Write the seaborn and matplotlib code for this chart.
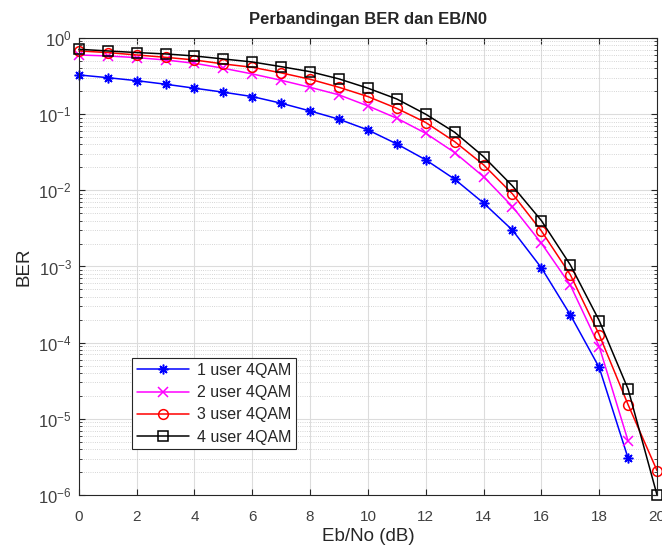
import matplotlib
matplotlib.use("Agg")
import matplotlib.pyplot as plt
import matplotlib.ticker as mticker
import seaborn as sns
import pandas as pd

# Eb/No in dB
ebno_1 = list(range(0, 20))
ebno_2 = list(range(0, 20))
ebno_3 = list(range(0, 21))
ebno_4 = list(range(0, 21))

# BER values
ber_1 = [0.327, 0.301, 0.275, 0.247, 0.219, 0.194, 0.170, 0.139, 0.110, 0.0857,
         0.062, 0.0406, 0.0251, 0.0140, 0.0068, 0.0030, 0.00096, 0.000232, 4.72e-5, 3.03e-6]
ber_2 = [0.598, 0.58, 0.552, 0.514, 0.465, 0.40, 0.337, 0.278, 0.225, 0.179,
         0.128, 0.0883, 0.056, 0.0313, 0.0151, 0.0061, 0.00202, 0.00057, 8.9e-5, 5.1e-6]
ber_3 = [0.675, 0.643, 0.598, 0.557, 0.514, 0.456, 0.412, 0.348, 0.287, 0.225,
         0.17, 0.119, 0.0776, 0.0436, 0.0216, 0.00897, 0.00293, 0.00078, 0.000127, 1.53e-5, 2.09e-6]
ber_4 = [0.71, 0.675, 0.643, 0.617, 0.58, 0.53, 0.484, 0.42, 0.361, 0.29,
         0.219, 0.158, 0.0997, 0.0578, 0.0277, 0.0114, 0.0040, 0.00105, 0.000195, 2.45e-5, 1e-6]

labels = ["1 user 4QAM", "2 user 4QAM", "3 user 4QAM", "4 user 4QAM"]
colors = ["#0000ff", "#ff00ff", "#ff0000", "#000000"]
markers = [(8, 2, 0), "x", "o", "s"]

sns.set_style("ticks")
plt.rcParams["font.family"] = ["Liberation Sans", "DejaVu Sans"]
plt.rcParams["mathtext.fontset"] = "custom"
plt.rcParams["mathtext.rm"] = "Liberation Sans"

fig = plt.figure(figsize=(6.62, 5.5), dpi=100)
ax = fig.add_axes([0.119, 0.1, 0.8735, 0.831])

series = [(ebno_1, ber_1), (ebno_2, ber_2), (ebno_3, ber_3), (ebno_4, ber_4)]
for (xs, ys), lab, col, mk in zip(series, labels, colors, markers):
    df = pd.DataFrame({"ebno": xs, "ber": ys})
    sns.lineplot(data=df, x="ebno", y="ber", ax=ax, color=col, marker=mk,
                 markersize=7, markerfacecolor="none", markeredgecolor=col,
                 markeredgewidth=1.1, linewidth=1.1, label=lab, clip_on=False)

ax.set_yscale("log")
ax.set_xlim(0, 20)
ax.set_ylim(1e-6, 1)
ax.set_xticks(range(0, 21, 2))
ax.yaxis.set_major_locator(mticker.LogLocator(base=10, numticks=10))
ax.yaxis.set_minor_locator(mticker.LogLocator(base=10, subs=range(2, 10), numticks=20))
ax.yaxis.set_minor_formatter(mticker.NullFormatter())

ax.grid(True, which="major", color="#dcdcdc", linewidth=0.8, linestyle="-")
ax.grid(True, which="minor", axis="y", color="#c8c8c8", linewidth=0.6, linestyle=":")
ax.set_axisbelow(True)

ax.tick_params(axis="both", which="both", direction="in", top=True, right=True,
               colors="#262626", labelcolor="#404040")
ax.tick_params(axis="x", labelsize=11, pad=11)
ax.tick_params(axis="y", labelsize=12, pad=5)
ax.tick_params(which="major", length=4)
ax.tick_params(which="minor", length=2.5)
for sp in ax.spines.values():
    sp.set_color("#262626")
    sp.set_linewidth(0.8)

ax.set_xlabel("Eb/No (dB)", fontsize=13.5, color="#262626", labelpad=3)
ax.set_ylabel("BER", fontsize=13.5, color="#262626", labelpad=4)
ax.set_title("Perbandingan BER dan EB/N0", fontsize=12, fontweight="bold", pad=10)

leg = ax.legend(loc="lower left", bbox_to_anchor=(0.092, 0.10), fontsize=11.5,
                handlelength=3.3, frameon=True, fancybox=False, framealpha=1,
                borderpad=0.3, borderaxespad=0, labelspacing=0.45, handletextpad=0.45)
leg.get_frame().set_edgecolor("#262626")
leg.get_frame().set_linewidth(0.8)

fig.savefig("out.png", dpi=100)
